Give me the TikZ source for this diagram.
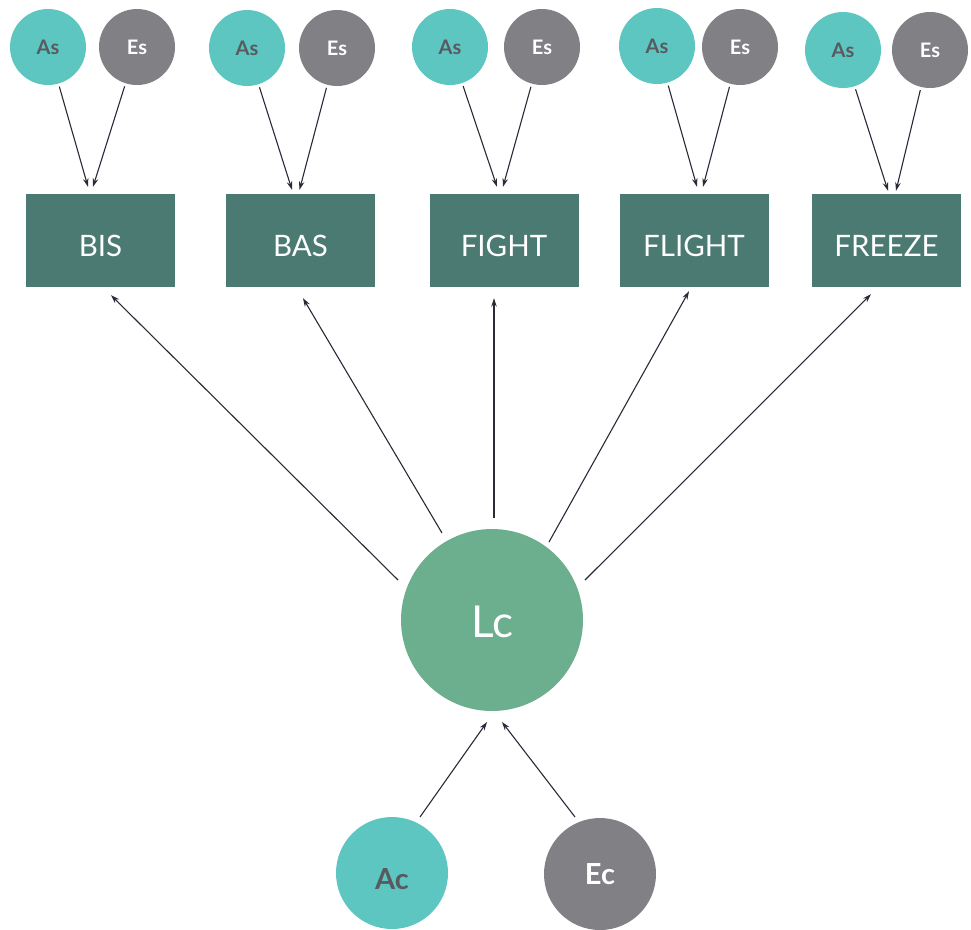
\documentclass[tikz,border=0pt]{standalone}
\usepackage{fontspec}
\setmainfont{Lato}
\usetikzlibrary{arrows.meta,calc}
\definecolor{cAs}{RGB}{94,198,193}
\definecolor{cEs}{RGB}{128,128,133}
\definecolor{cBox}{RGB}{74,122,114}
\definecolor{cLc}{RGB}{108,175,143}
\definecolor{cArr}{RGB}{40,42,55}
\definecolor{cTxt}{RGB}{88,90,96}
\begin{document}
\begin{tikzpicture}[x=1pt,y=-1pt,
  smallA/.style={circle,fill=cAs,minimum size=76pt,inner sep=0pt,text=cTxt,font=\bfseries\fontsize{20}{24}\selectfont},
  smallE/.style={circle,fill=cEs,minimum size=76pt,inner sep=0pt,text=white,font=\bfseries\fontsize{20}{24}\selectfont},
  box/.style={rectangle,fill=cBox,minimum width=149pt,minimum height=93pt,inner sep=0pt,text=white,font=\fontsize{29.5}{34}\selectfont,text height=31pt,text depth=0pt},
  arr/.style={draw=cArr,line width=1.1pt,-{Stealth[length=8.5pt,width=5.5pt]}},
  sarr/.style={arr,shorten <=3pt}]
\useasboundingbox (0,0) rectangle (971,929);
% top circles
\node[smallA] (As1) at (48,47) {As};
\node[smallE] (Es1) at (137,47) {Es};
\node[smallA] (As2) at (247,48) {As};
\node[smallE] (Es2) at (337,48) {Es};
\node[smallA] (As3) at (450,47) {As};
\node[smallE] (Es3) at (542,47) {Es};
\node[smallA] (As4) at (657,46) {As};
\node[smallE] (Es4) at (740,47) {Es};
\node[smallA] (As5) at (843,50) {As};
\node[smallE] (Es5) at (930,50) {Es};
% boxes
\node[box] (BIS) at (100.5,240.5) {BIS};
\node[box] (BAS) at (300.5,240.5) {BAS};
\node[box] (FIGHT) at (504,240.5) {FIGHT};
\node[box] (FLIGHT) at (694,240.5) {FLIGHT};
\node[box] (FREEZE) at (886.5,240.5) {FREEZE};
% central
\node[circle,fill=cLc,minimum size=182pt,inner sep=0pt,text=white,font=\fontsize{44}{50}\selectfont,text height=35pt,text depth=0pt] (Lc) at (492,620) {Lc};
\node[circle,fill=cAs,minimum size=112pt,inner sep=0pt,text=cTxt,font=\bfseries\fontsize{29}{34}\selectfont,text height=33pt,text depth=0pt] (Ac) at (392,873) {Ac};
\node[circle,fill=cEs,minimum size=112pt,inner sep=0pt,text=white,font=\bfseries\fontsize{29}{34}\selectfont] (Ec) at (600,874) {Ec};
% top arrows
\draw[sarr] (As1) -- ($(BIS.north)+(-12.5,-7)$);
\draw[sarr] (Es1) -- ($(BIS.north)+(-7.5,-7)$);
\draw[sarr] (As2) -- ($(BAS.north)+(-8.5,-4)$);
\draw[sarr] (Es2) -- ($(BAS.north)+(-1,-4)$);
\draw[sarr] (As3) -- ($(FIGHT.north)+(-7,-7)$);
\draw[sarr] (Es3) -- ($(FIGHT.north)+(-1,-7)$);
\draw[sarr] (As4) -- ($(FLIGHT.north)+(3,-7)$);
\draw[sarr] (Es4) -- ($(FLIGHT.north)+(9,-7)$);
\draw[sarr] (As5) -- ($(FREEZE.north)+(1.5,-3)$);
\draw[sarr] (Es5) -- ($(FREEZE.north)+(9.5,-3)$);
% Lc to boxes
\draw[arr] ($(Lc)+(-94,-40)$) -- ($(BIS.south)+(10.5,8)$);
\draw[arr] ($(Lc)+(-50,-87)$) -- ($(BAS.south)+(2.5,11)$);
\draw[arr] ($(Lc)+(2,-102)$) -- ($(FIGHT.south)+(-10,11)$);
\draw[arr] ($(Lc)+(57,-78)$) -- ($(FLIGHT.south)+(-5,4)$);
\draw[arr] ($(Lc)+(93,-40)$) -- ($(FREEZE.south)+(-15.5,7)$);
% bottom
\draw[arr] ($(Ac)+(28,-56)$) -- ($(Lc)+(-5,102)$);
\draw[arr] ($(Ec)+(-25,-57)$) -- ($(Lc)+(10,102)$);
\end{tikzpicture}
\end{document}
